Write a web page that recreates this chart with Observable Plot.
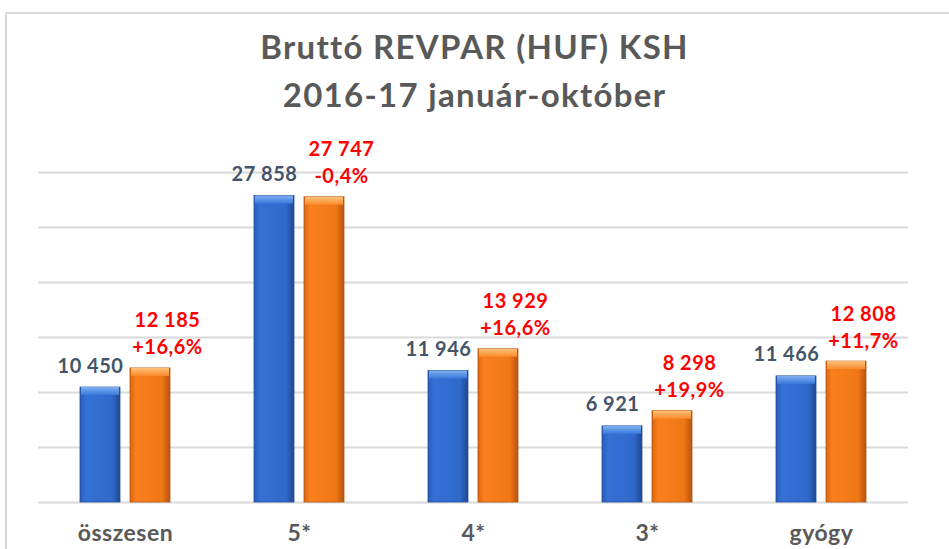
<!DOCTYPE html>
<html><head><meta charset="utf-8">
<script src="https://cdn.jsdelivr.net/npm/d3@7"></script>
<script src="https://cdn.jsdelivr.net/npm/@observablehq/plot@0.6"></script>
<style>
html,body{margin:0;padding:0;background:#fff;overflow:hidden;width:949px;height:549px;}
#wrap{position:relative;width:949px;height:549px;overflow:hidden;}
#frame{position:absolute;left:5px;top:12px;width:1000px;height:600px;border-top:2px solid #d9d9d9;border-left:2px solid #d9d9d9;}
#title{position:absolute;left:0;top:0;width:949px;height:130px;text-align:center;font-family:Lato,"Open Sans",sans-serif;font-weight:700;color:#595959;font-size:33px;letter-spacing:1.3px;line-height:48px;padding-top:22px;box-sizing:border-box;}
#chart{position:absolute;left:0;top:130px;}
#chart svg text{letter-spacing:0.5px;}
</style>
</head><body>
<div id="wrap">
<div id="frame"></div>
<div id="title"><div>Bruttó REVPAR (HUF) KSH</div><div>2016-17 január-október</div></div>
<div id="chart"></div>
</div>
<script>
const categories = ["összesen", "5*", "4*", "3*", "gyógy"];
const years = ["2016", "2017"];
const revpar2016 = [10450, 27858, 11946, 6921, 11466];
const revpar2017 = [12185, 27747, 13929, 8298, 12808];
const changePct = [16.6, -0.4, 16.6, 19.9, 11.7];
const yTicks = [0, 5000, 10000, 15000, 20000, 25000, 30000];

const loc = d3.formatLocale({decimal: ",", thousands: " ", grouping: [3], currency: ["", ""], minus: "-"});
const fmtN = loc.format(",d");
const fmtD = loc.format(".1f");
const fmtP = v => (v > 0 ? "+" : "") + fmtD(v) + "%";

const rows2016 = categories.map((c, i) => ({cat: c, year: years[0], value: revpar2016[i]}));
const rows2017 = categories.map((c, i) => ({cat: c, year: years[1], value: revpar2017[i], change: changePct[i]}));

const chart = Plot.plot({
  width: 949,
  height: 419,
  marginLeft: 37,
  marginRight: 41,
  marginTop: 42,
  marginBottom: 47,
  style: {fontFamily: "Lato, 'Open Sans', sans-serif", background: "transparent", color: "#595959", overflow: "visible"},
  fx: {domain: categories, padding: 0, label: null},
  x: {domain: years, paddingInner: 0.2, paddingOuter: 0.84, axis: null},
  y: {domain: [0, 30000], axis: null},
  marks: [
    Plot.ruleY(yTicks, {stroke: "#d9d9d9", strokeWidth: 2}),
    Plot.barY(rows2016, {fx: "cat", x: "year", y: "value", fill: "url(#gBlue)", stroke: "#24509c", strokeWidth: 0.8}),
    Plot.barY(rows2017, {fx: "cat", x: "year", y: "value", fill: "url(#gOrange)", stroke: "#b9560f", strokeWidth: 0.8}),
    Plot.barY(rows2016, {fx: "cat", x: "year", y1: "value", y2: "value", insetBottom: -8, insetLeft: 1, insetRight: 1, fill: "url(#gBlueTop)"}),
    Plot.barY(rows2017, {fx: "cat", x: "year", y1: "value", y2: "value", insetBottom: -8, insetLeft: 1, insetRight: 1, fill: "url(#gOrangeTop)"}),
    Plot.text(rows2016, {fx: "cat", x: "year", y: "value", text: d => fmtN(d.value), dy: -15, dx: -10, lineAnchor: "bottom", fill: "#44546A", fontWeight: "bold", fontSize: 20}),
    Plot.text(rows2017, {fx: "cat", x: "year", y: "value", text: d => fmtN(d.value) + "\n" + fmtP(d.change), dy: -14, dx: 17, lineAnchor: "bottom", lineHeight: 1.35, fill: "#ff0000", fontWeight: "bold", fontSize: 20}),
    Plot.axisFx({anchor: "bottom", tickSize: 0, tickPadding: 22, fontSize: 23, fontWeight: "bold", label: null})
  ]
});

const defs = document.createElementNS("http://www.w3.org/2000/svg", "defs");
defs.innerHTML = `
<linearGradient id="gBlue" x1="0" x2="1" y1="0" y2="0">
  <stop offset="0" stop-color="#2a5cb6"/><stop offset="0.15" stop-color="#3471d6"/>
  <stop offset="0.8" stop-color="#3069cb"/><stop offset="1" stop-color="#1e4791"/>
</linearGradient>
<linearGradient id="gOrange" x1="0" x2="1" y1="0" y2="0">
  <stop offset="0" stop-color="#d9660f"/><stop offset="0.15" stop-color="#fa801d"/>
  <stop offset="0.8" stop-color="#ef7716"/><stop offset="1" stop-color="#b6540f"/>
</linearGradient>
<linearGradient id="gBlueTop" x1="0" x2="0" y1="0" y2="1">
  <stop offset="0" stop-color="#7fb0f2"/><stop offset="1" stop-color="#3a78da"/>
</linearGradient>
<linearGradient id="gOrangeTop" x1="0" x2="0" y1="0" y2="1">
  <stop offset="0" stop-color="#ffc27a"/><stop offset="1" stop-color="#fb8a2a"/>
</linearGradient>`;
chart.insertBefore(defs, chart.firstChild);
document.getElementById("chart").appendChild(chart);
</script>
</body></html>
